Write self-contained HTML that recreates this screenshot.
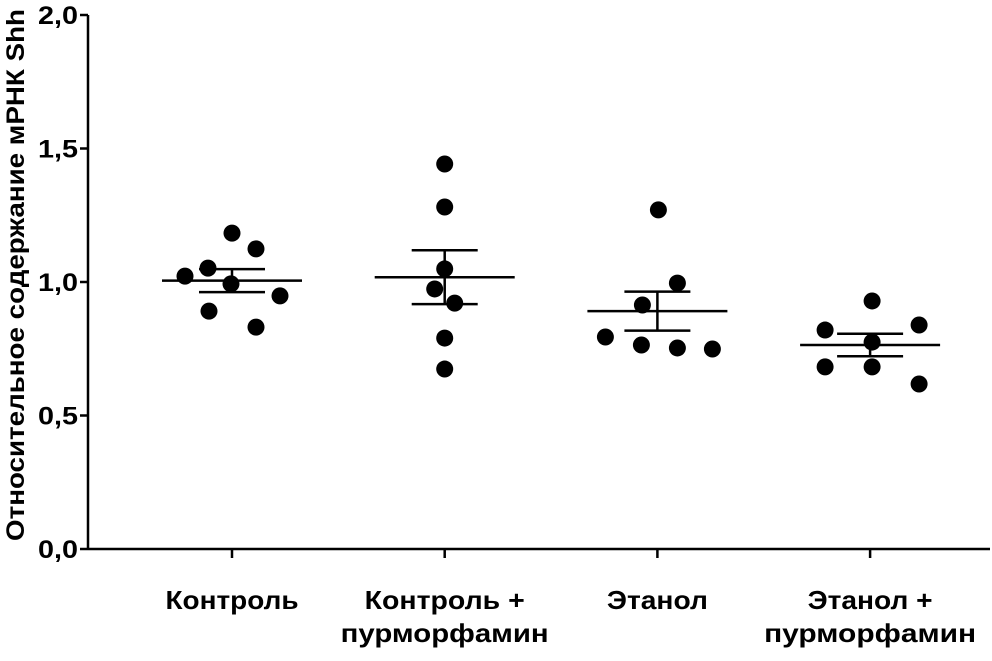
<!DOCTYPE html>
<html><head><meta charset="utf-8"><style>
body{margin:0;background:#fff;}
svg text{font-family:"Liberation Sans",Arial,sans-serif;font-weight:bold;fill:#000;}
</style></head><body>
<svg id="chart" width="992" height="656" viewBox="0 0 992 656" xmlns="http://www.w3.org/2000/svg"></svg>
<script>
const categories = [["Контроль"],["Контроль +","пурморфамин"],["Этанол"],["Этанол +","пурморфамин"]];
const values = [
  [1.022,1.052,0.993,1.183,1.124,0.948,0.891,0.831],
  [1.442,1.281,1.049,0.974,0.921,0.790,0.674],
  [1.270,0.996,0.914,0.794,0.764,0.753,0.749],
  [0.929,0.820,0.839,0.775,0.682,0.682,0.618]
];
const jitter = [
  [-47,-24,-1,0,24,48,-23,24],
  [0,0,0,-10,10,0,0],
  [1,20,-15,-52,-16,20,55],
  [2,-45,49,2,-45,2,49]
];
const means = [1.005,1.018,0.891,0.764];
const sems = [0.043,0.101,0.073,0.042];
const yTicks = [0,0.5,1.0,1.5,2.0];
const yTickLabels = ["0,0","0,5","1,0","1,5","2,0"];
const labelLengths = [[133],[160,208],[101],[125,212]];

const NS="http://www.w3.org/2000/svg";
const svg=document.getElementById('chart');
const y0=549, yTop=15, axX=88;
function yS(v){return y0-(v/2)*(y0-yTop);}
function xS(i){return 232+i*212.7;}
function mk(t,a,p){const e=document.createElementNS(NS,t);for(const k in a)e.setAttribute(k,a[k]);(p||svg).appendChild(e);return e;}

let e=mk('line',{x1:axX,y1:yTop,x2:axX,y2:y0,stroke:'#000','stroke-width':2.5});


e=mk('line',{x1:axX,y1:y0,x2:990,y2:y0,stroke:'#000','stroke-width':2.5});



yTicks.forEach((v,i)=>{
  let t=mk('line',{x1:axX-8,y1:yS(v),x2:axX,y2:yS(v),stroke:'#000','stroke-width':2.5});
  
  
  let l=mk('text',{x:38,y:yS(v)+9,'font-size':25,textLength:40,lengthAdjust:'spacingAndGlyphs'});
  l.textContent=yTickLabels[i];
  
  
});
let yt=mk('text',{x:0,y:0,'text-anchor':'middle','font-size':25,textLength:532,lengthAdjust:'spacingAndGlyphs',transform:'translate(24,275) rotate(-90)'});
yt.textContent='Относительное содержание мРНК Shh';



categories.forEach((c,i)=>{
  const x=xS(i);
  let t=mk('line',{x1:x,y1:y0,x2:x,y2:y0+9,stroke:'#000','stroke-width':2.5});
  
  
  c.forEach((s,j)=>{
    const L=labelLengths[i][j];
    let l=mk('text',{x:x-L/2,y:609+j*33,'font-size':26,textLength:L,lengthAdjust:'spacingAndGlyphs'});
    l.textContent=s;
    
    
  });
  values[i].forEach((v,k)=>{
    let p=mk('circle',{cx:x+jitter[i][k],cy:yS(v),r:8.5,fill:'#000'});
    
    
  });
  let m=mk('line',{x1:x-70,x2:x+70,y1:yS(means[i]),y2:yS(means[i]),stroke:'#000','stroke-width':2.5});
  
  
  const hi=means[i]+sems[i], lo=means[i]-sems[i];
  let s=mk('line',{x1:x,x2:x,y1:yS(hi),y2:yS(lo),stroke:'#000','stroke-width':2.5});
  
  
  [hi,lo].forEach(v=>{
    let c2=mk('line',{x1:x-33,x2:x+33,y1:yS(v),y2:yS(v),stroke:'#000','stroke-width':2.5});
    
    
  });
});
</script>
</body></html>
